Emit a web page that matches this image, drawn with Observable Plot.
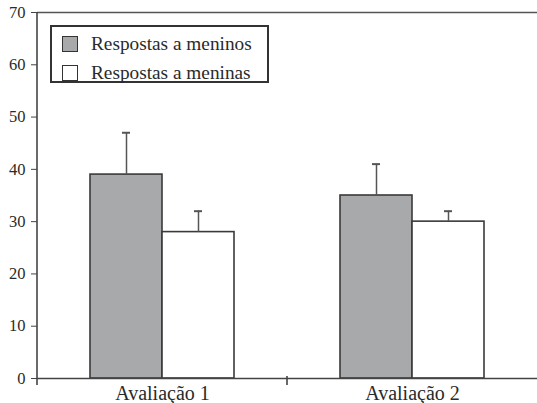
<!DOCTYPE html>
<html><head><meta charset="utf-8">
<script src="https://cdn.jsdelivr.net/npm/d3@7"></script>
<script src="https://cdn.jsdelivr.net/npm/@observablehq/plot@0.6"></script>
<style>
body{margin:0;background:#fff}
#wrap{position:relative;width:537px;height:403px;font-family:"Liberation Serif","Times New Roman","DejaVu Serif",serif;color:#2a2a2a}
#legend{position:absolute;left:50px;top:25px;width:219px;height:58px;border:2px solid #333;background:#fff;box-sizing:border-box}
.row{position:absolute;left:10px;height:18px;display:flex;align-items:center;font-size:19.3px;white-space:nowrap;font-family:"Liberation Serif","Times New Roman","DejaVu Serif",serif}
.sw{width:14px;height:14px;border:1.8px solid #333;margin-right:13px;flex:none}
</style></head>
<body><div id="wrap"><div id="legend"></div></div>
<script>
const groups = ["Avaliação 1", "Avaliação 2"];
const series = ["Respostas a meninos", "Respostas a meninas"];
const meninos = [39, 35];
const meninas = [28, 30];
const erroMeninos = [8, 6];
const erroMeninas = [4, 2];
const yTicks = [0, 10, 20, 30, 40, 50, 60, 70];
const colors = ["#a8a9ab", "#ffffff"];
const serifFont = '"Liberation Serif", "Times New Roman", "DejaVu Serif", serif';

const data = groups.flatMap((g, i) => [
  {group: g, series: series[0], value: meninos[i], err: erroMeninos[i]},
  {group: g, series: series[1], value: meninas[i], err: erroMeninas[i]}
]);

const chart = Plot.plot({
  width: 537, height: 403, marginTop: 12, marginLeft: 37, marginRight: 0, marginBottom: 25,
  style: {fontFamily: serifFont, fontSize: "16px", color: "#2a2a2a", background: "transparent", overflow: "visible"},
  fx: {domain: groups, padding: 0, label: null},
  x: {domain: series, paddingInner: 0, paddingOuter: 0.736, axis: null},
  y: {domain: [0, 70], label: null},
  color: {domain: series, range: colors},
  marks: [
    Plot.ruleY([70], {stroke: "#555", strokeWidth: 1.5}),
    Plot.barY(data, {fx: "group", x: "series", y: "value", fill: "series", stroke: "#3a3a3a", strokeWidth: 1.6}),
    Plot.ruleX(data, {fx: "group", x: "series", y1: "value", y2: d => d.value + d.err, stroke: "#555", strokeWidth: 1.5}),
    Plot.tickY(data, {fx: "group", x: "series", y: d => d.value + d.err, insetLeft: 32, insetRight: 32, stroke: "#555", strokeWidth: 2}),
    Plot.ruleY([0], {stroke: "#444", strokeWidth: 1.6}),
    Plot.axisY({ticks: yTicks, tickSize: 6, tickPadding: 6, stroke: "#444", fontSize: 16.5, fontFamily: serifFont, label: null}),
    Plot.axisFx({anchor: "bottom", tickSize: 0, tickPadding: 7, fontSize: 20, fontFamily: serifFont, label: null})
  ]
});

const wrap = document.getElementById("wrap");
wrap.insertBefore(chart, wrap.firstChild);
chart.style.position = "absolute"; chart.style.left = "0"; chart.style.top = "0";

// axis line and group-boundary ticks from the library's scales
const fx = chart.scale("fx"), y = chart.scale("y");
const svg = d3.select(chart);
groups.forEach((g, i) => {
  const x0 = fx.apply(g);
  svg.append("line").attr("x1", x0).attr("x2", x0)
    .attr("y1", i === 0 ? y.apply(70) : y.apply(0) - 2).attr("y2", y.apply(0) + 7)
    .attr("stroke", "#444").attr("stroke-width", 1.6);
});

// legend
const legend = document.getElementById("legend");
series.forEach((s, i) => {
  const row = document.createElement("div");
  row.className = "row";
  row.style.top = (i === 0 ? 8 : 37) + "px";
  const sw = document.createElement("div");
  sw.className = "sw"; sw.style.background = colors[i];
  const t = document.createElement("span"); t.textContent = s;
  row.appendChild(sw); row.appendChild(t);
  legend.appendChild(row);
});
</script></body></html>
